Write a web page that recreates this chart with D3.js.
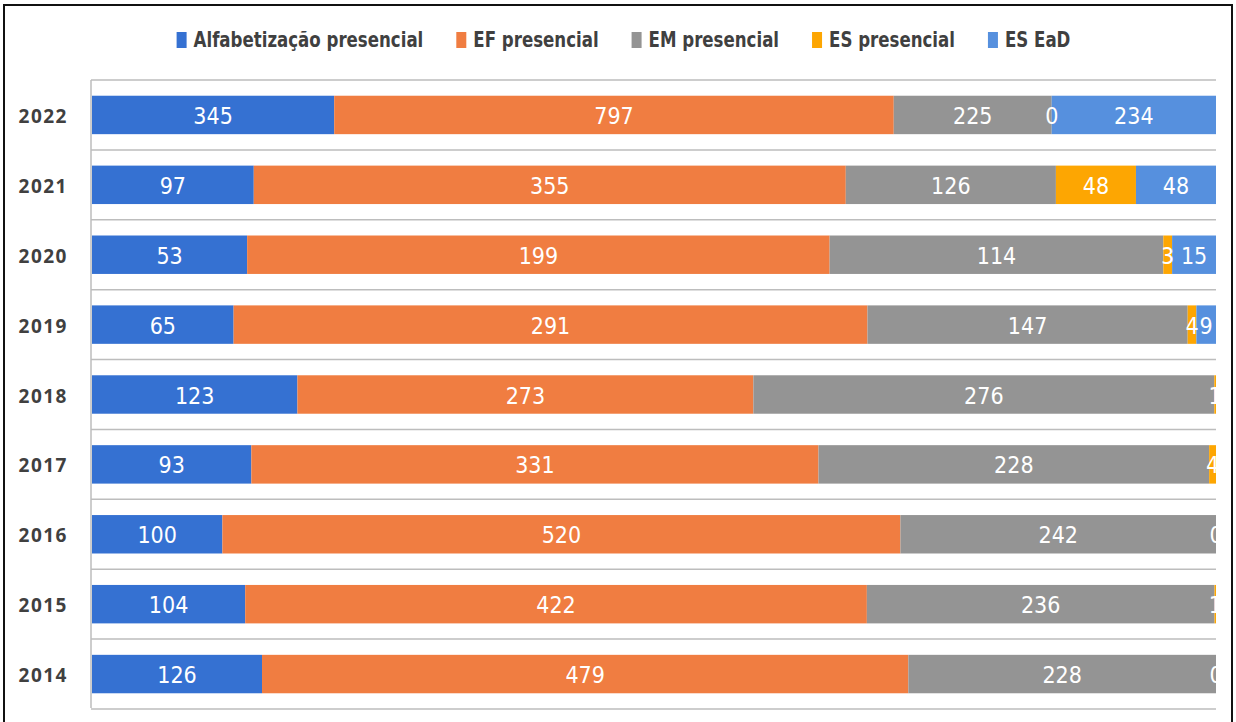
<!DOCTYPE html>
<html><head><meta charset="utf-8">
<script src="https://cdn.jsdelivr.net/npm/d3@7"></script>
<style>
html,body{margin:0;padding:0;background:#fff;}
svg{display:block;}
</style></head>
<body>
<svg id="chart" width="1236" height="722"></svg>
<script>
const years = ["2022","2021","2020","2019","2018","2017","2016","2015","2014"];
const seriesNames = ["Alfabetização presencial","EF presencial","EM presencial","ES presencial","ES EaD"];
const alfabetizacao = [345,97,53,65,123,93,100,104,126];
const efPresencial = [797,355,199,291,273,331,520,422,479];
const emPresencial = [225,126,114,147,276,228,242,236,228];
const esPresencial = [0,48,3,4,1,4,0,1,0];
const esEad = [234,48,15,9,null,null,null,null,null];
const colors = ["#3571D2","#F07D41","#949494","#FDA602","#5690DE"];

const seriesVals = [alfabetizacao, efPresencial, emPresencial, esPresencial, esEad];
const rows = years.map((y,i)=>{const o={year:y}; seriesNames.forEach((s,k)=>o[s]=seriesVals[k][i]); return o;});

const svg = d3.select("#chart");
const x0=92,x1=1216,y0=80,y1=709;

// outer frame
svg.append("rect").attr("x",4).attr("y",5).attr("width",1228).attr("height",730)
  .attr("fill","none").attr("stroke","#111").attr("stroke-width",2);

const x = d3.scaleLinear().domain([0,1]).range([x0,x1]);
const y = d3.scaleBand().domain(years).range([y0,y1]).paddingInner(0.45).paddingOuter(0.225);

// gridlines at band boundaries
const bounds = d3.range(years.length+1).map(i=>y0+i*(y1-y0)/years.length);
svg.append("g").selectAll("line").data(bounds).join("line")
  .attr("x1",x0-1).attr("x2",x1).attr("y1",d=>d).attr("y2",d=>d)
  .attr("stroke","#BDBDBD").attr("stroke-width",1.5);
svg.append("line").attr("x1",x0-1).attr("x2",x0-1).attr("y1",y0).attr("y2",y1-1)
  .attr("stroke","#BDBDBD").attr("stroke-width",1.5);

const stack = d3.stack().keys(seriesNames).value((d,k)=>d[k]==null?0:d[k]).offset(d3.stackOffsetExpand);
const stacked = stack(rows);

svg.append("defs").append("clipPath").attr("id","plotclip")
  .append("rect").attr("x",x0).attr("y",y0).attr("width",x1-x0).attr("height",y1-y0);

const gBars = svg.append("g");
stacked.forEach((layer,k)=>{
  gBars.append("g").selectAll("rect").data(layer).join("rect")
    .attr("x",d=>x(d[0])).attr("width",d=>Math.max(0,x(d[1])-x(d[0])))
    .attr("y",d=>y(d.data.year)).attr("height",y.bandwidth())
    .attr("fill",colors[k]);
});

const gLab = svg.append("g").attr("clip-path","url(#plotclip)");
stacked.forEach((layer,k)=>{
  gLab.append("g").selectAll("text").data(layer.filter(d=>d.data[seriesNames[k]]!=null)).join("text")
    .attr("x",d=>(x(d[0])+x(d[1]))/2)
    .attr("y",d=>y(d.data.year)+y.bandwidth()/2+1)
    .attr("text-anchor","middle").attr("dominant-baseline","central")
    .attr("fill","#fff")
    .style("font-family","'DejaVu Sans Condensed','Open Sans',sans-serif")
    .style("font-size","23px")
    .text(d=>d.data[seriesNames[k]]);
});

// y axis labels
svg.append("g").selectAll("text").data(years).join("text")
  .attr("x",68).attr("y",d=>y(d)+y.bandwidth()/2+1)
  .attr("text-anchor","end").attr("dominant-baseline","central")
  .attr("fill","#404040")
  .style("font-family","'Open Sans',sans-serif").style("font-weight","700")
  .style("font-size","19px").style("letter-spacing","1.5px")
  .text(d=>d);

// legend
const leg = svg.append("g");
const sx = 0.88;
let cx = 0;
seriesNames.forEach((s,k)=>{
  const g = leg.append("g");
  g.append("rect").attr("x",0).attr("y",-8).attr("width",10).attr("height",16).attr("fill",colors[k]);
  const t = g.append("text").attr("x",0).attr("y",0).attr("dominant-baseline","central")
    .attr("transform",`translate(17,0) scale(${sx},1)`)
    .attr("fill","#404040")
    .style("font-family","'DejaVu Sans Condensed','Open Sans',sans-serif")
    .style("font-weight","700").style("font-size","21px").text(s);
  const w = 17 + t.node().getComputedTextLength()*sx;
  g.attr("transform",`translate(${cx},0)`);
  cx += w + 33;
});
const legW = cx - 33;
leg.attr("transform",`translate(${(185+1062)/2 - legW/2},40)`);
</script>
</body></html>
